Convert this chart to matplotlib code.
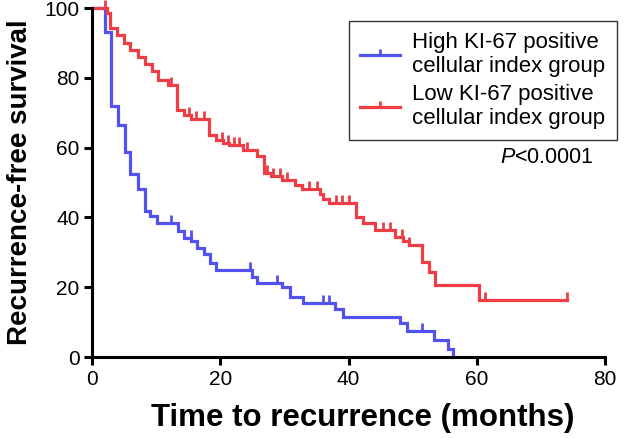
import matplotlib
matplotlib.use("Agg")
import matplotlib.pyplot as plt
from matplotlib.path import Path
from matplotlib.lines import Line2D

plt.rcParams['font.family'] = ['Liberation Sans', 'DejaVu Sans']
plt.rcParams['mathtext.fontset'] = 'custom'
plt.rcParams['mathtext.it'] = 'Liberation Sans:italic'
plt.rcParams['mathtext.rm'] = 'Liberation Sans'

# high KI-67 group: event times (months) and survival (%) after each step
high_t = [2.0, 3.0, 4.1, 5.1, 6.0, 7.1, 8.2, 9.0, 10.1, 13.4, 14.4, 15.5, 16.3, 17.4,
          18.4, 19.4, 24.9, 25.8, 29.7, 30.8, 32.9, 37.9, 39.1, 48.0, 49.2, 53.4, 55.5, 56.3]
high_s = [93, 72, 66.5, 58.8, 52.4, 48, 41.9, 40.4, 38.3, 36.2, 34.0, 33.1, 31.2, 29.4,
          27.0, 25.0, 22.8, 21.3, 20.0, 17.1, 15.6, 13.9, 11.5, 9.8, 7.5, 4.9, 2.2, 0]
high_cens = [12.3, 15.4, 24.6, 28.8, 36.0, 37.0, 51.4]

# low KI-67 group
low_t = [2.3, 2.8, 3.9, 5.0, 5.9, 7.2, 8.3, 9.3, 10.3, 11.8, 13.2, 14.3, 15.4, 18.3, 19.4,
         20.5, 21.4, 23.5, 25.7, 26.8, 27.9, 29.7, 31.7, 32.7, 35.5, 36.0, 37.0, 41.2, 42.3,
         44.2, 47.3, 48.5, 49.4, 51.4, 52.5, 53.5, 60.3]
low_s = [98.5, 94.4, 92.3, 90.1, 88.0, 86.0, 84.1, 81.9, 79.5, 78.0, 70.8, 69.3, 68.3, 63.6,
         62.2, 61.4, 60.7, 59.3, 57.6, 52.8, 51.9, 50.7, 49.3, 48.0, 46.7, 45.4, 44.0, 40.2,
         38.5, 36.4, 34.5, 33.1, 32.0, 27.3, 24.4, 20.6, 16.3]
low_cens = [2.0, 12.3, 15.2, 16.2, 17.4, 20.2, 21.2, 22.2, 23.0, 24.2, 27.3, 28.3, 29.3,
            30.4, 33.9, 35.1, 38.0, 39.0, 40.1, 45.4, 46.5, 48.4, 49.5, 61.3, 74.0]

labels = ['High KI-67 positive\ncellular index group', 'Low KI-67 positive\ncellular index group']
blue = '#5252ee'
red = '#ee3d45'

tick_up = Path([(0, 0), (0, 1)], [Path.MOVETO, Path.LINETO])


def surv_at(ts, ss, x):
    v = 100
    for t, s in zip(ts, ss):
        if t <= x:
            v = s
    return v


fig = plt.figure(figsize=(6.31, 4.38), dpi=100)
ax = fig.add_axes([0.1458, 0.1849, 0.813, 0.7968])

for ts, ss, cens, c, end in [(high_t, high_s, high_cens, blue, high_t[-1]),
                             (low_t, low_s, low_cens, red, low_cens[-1])]:
    xs = [0] + ts + [end]
    ys = [100] + ss + [ss[-1]]
    ax.step(xs, ys, where='post', color=c, lw=2.3, clip_on=False, solid_joinstyle='miter')
    cy = [surv_at(ts, ss, x) for x in cens]
    ax.plot(cens, cy, ls='none', marker=tick_up, ms=11, mew=2.0, color=c, clip_on=False)

ax.set_xlim(0, 80)
ax.set_ylim(0, 100)
ax.set_xticks([0, 20, 40, 60, 80])
ax.set_yticks([0, 20, 40, 60, 80, 100])
ax.tick_params(labelsize=15, width=2.2, length=6, direction='out', pad=3)
for sp in ['top', 'right']:
    ax.spines[sp].set_visible(False)
for sp in ['left', 'bottom']:
    ax.spines[sp].set_linewidth(2.2)

ax.set_xlabel('Time to recurrence (months)', fontsize=22.5, fontweight='bold')
ax.xaxis.set_label_coords(0.527, -0.133)
ax.xaxis.label.set_va('top')
ax.set_ylabel('Recurrence-free survival', fontsize=20, fontweight='bold', labelpad=8)

handles = [Line2D([], [], color=blue, lw=2.3, marker=tick_up, ms=8, mew=2.0),
           Line2D([], [], color=red, lw=2.3, marker=tick_up, ms=8, mew=2.0)]
leg = ax.legend(handles, labels, loc='upper left', bbox_to_anchor=(0.501, 0.963),
                borderaxespad=0, fontsize=16, frameon=True, fancybox=False,
                handlelength=1.8, borderpad=0.5, labelspacing=0.3, handletextpad=0.55)
leg.get_frame().set_edgecolor('black')
leg.get_frame().set_linewidth(1.0)

ax.text(63.6, 57.3, r'$P$<0.0001', fontsize=15.5, ha='left', va='center')

fig.savefig('out.png', dpi=100)
